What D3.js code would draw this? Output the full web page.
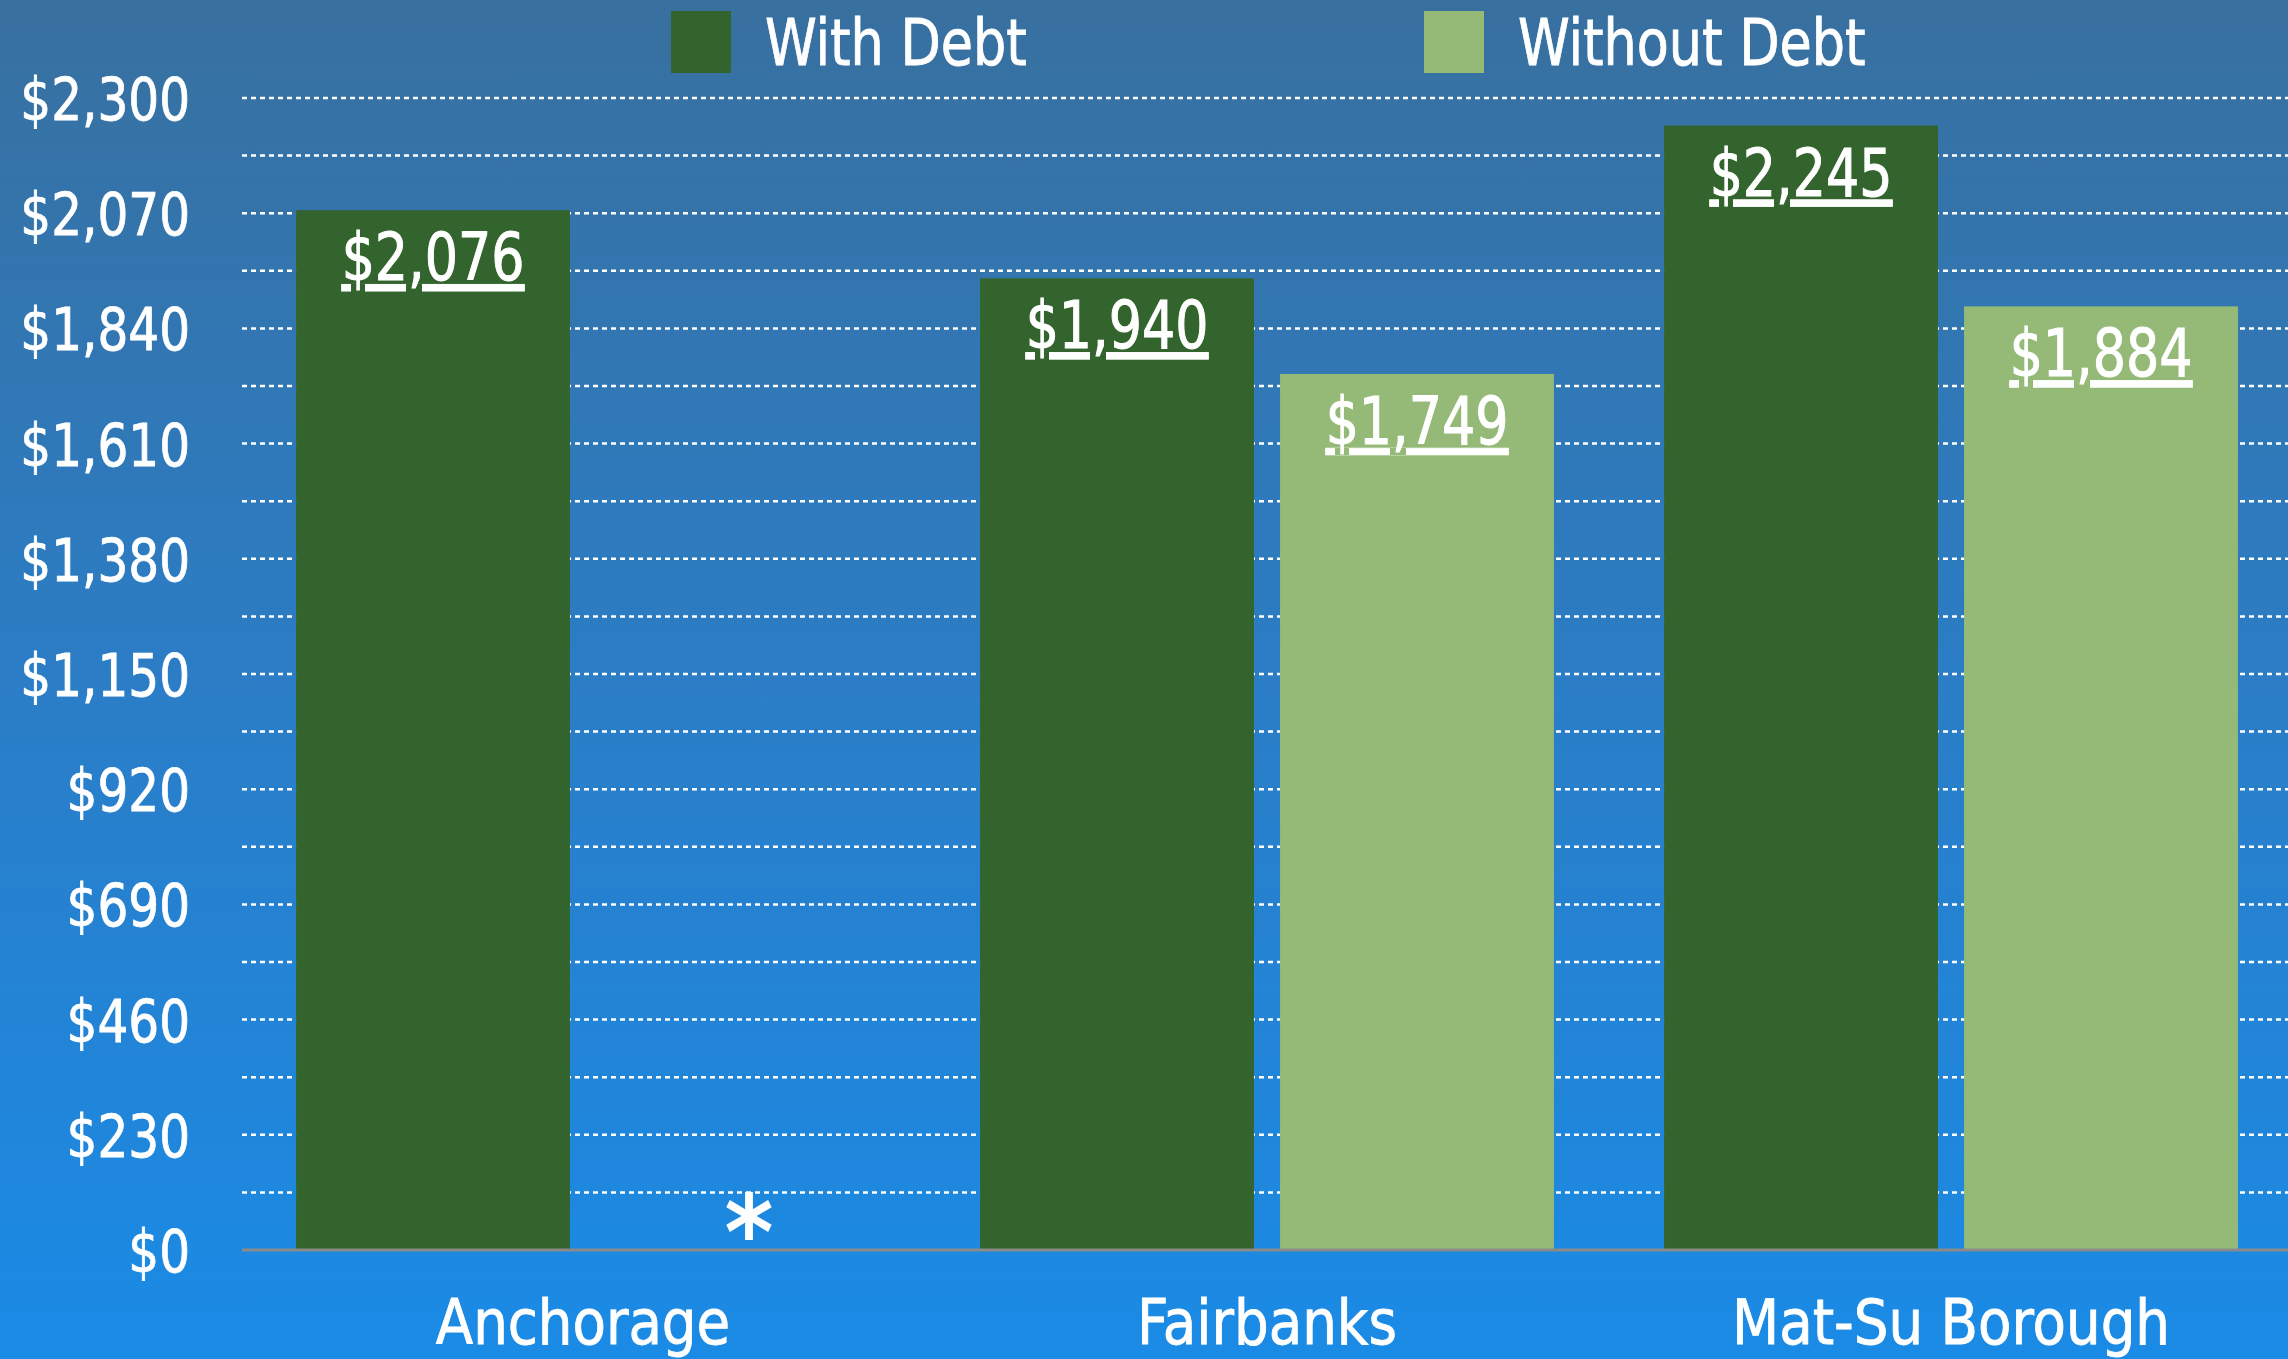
<!DOCTYPE html>
<html>
<head>
<meta charset="utf-8">
<script src="https://cdn.jsdelivr.net/npm/d3@7"></script>
<style>
  html, body { margin: 0; padding: 0; overflow: hidden; }
  svg text { font-family: "DejaVu Sans Condensed", "DejaVu Sans", sans-serif; font-stretch: condensed; fill: #fff; }
</style>
</head>
<body>
<div id="chart"></div>
<script>
// Chart data
const categories = ["Anchorage", "Fairbanks", "Mat-Su Borough"];
const seriesNames = ["With Debt", "Without Debt"];
const withDebt = [2076, 1940, 2245];
const withoutDebt = [null, 1749, 1884];   // Anchorage has no value (marked *)
const tickValues = [0, 230, 460, 690, 920, 1150, 1380, 1610, 1840, 2070, 2300];
const gridValues = d3.range(115, 2301, 115);

const colors = ["#33642d", "#95ba78"];

const width = 2288;
const height = 1359;
const margin = { top: 98, right: 0, bottom: 109, left: 242 };
const fmt = d => "$" + d3.format(",")(d);

const svg = d3.select("#chart")
    .append("svg")
    .attr("width", width)
    .attr("height", height);

// Background gradient
const grad = svg.append("defs").append("linearGradient")
    .attr("id", "bg")
    .attr("x1", 0).attr("y1", 0).attr("x2", 0).attr("y2", 1);
grad.append("stop").attr("offset", "0%").attr("stop-color", "#38709f");
grad.append("stop").attr("offset", "50%").attr("stop-color", "#2b7dc6");
grad.append("stop").attr("offset", "100%").attr("stop-color", "#1a8be6");

svg.append("rect")
    .attr("width", width)
    .attr("height", height)
    .attr("fill", "url(#bg)");

// Scales
const x0 = d3.scaleBand()
    .domain(categories)
    .range([241, 2293])
    .paddingInner(0.161)
    .paddingOuter(0.0805);

const x1 = d3.scaleBand()
    .domain(seriesNames)
    .range([0, x0.bandwidth()])
    .paddingInner(0.087);

const y = d3.scaleLinear()
    .domain([0, 2300])
    .range([height - margin.bottom, margin.top]);

// Dotted gridlines
svg.append("g")
    .selectAll("line")
    .data(gridValues)
    .join("line")
    .attr("x1", margin.left)
    .attr("x2", width - margin.right)
    .attr("y1", d => y(d))
    .attr("y2", d => y(d))
    .attr("stroke", "#fff")
    .attr("stroke-width", 2.5)
    .attr("stroke-dasharray", "5,4");

// Y axis labels
const yAxis = svg.append("g")
    .attr("transform", `translate(${margin.left - 52},3)`)
    .call(d3.axisLeft(y).tickValues(tickValues).tickSize(0).tickPadding(0)
        .tickFormat(fmt));
yAxis.select(".domain").remove();
yAxis.selectAll("text")
    .attr("font-size", 58)
    .attr("fill", "#fff")
    .attr("stroke", "#fff")
    .attr("stroke-width", 0.8)
    .attr("transform", "scale(0.93,1)")
    .style("font-family", null);

// Bars
const rows = categories.map((c, i) => ({
    category: c,
    values: [
        { key: seriesNames[0], value: withDebt[i], color: colors[0] },
        { key: seriesNames[1], value: withoutDebt[i], color: colors[1] }
    ]
}));

const groups = svg.append("g")
    .selectAll("g")
    .data(rows)
    .join("g")
    .attr("transform", d => `translate(${x0(d.category)},0)`);

groups.selectAll("rect")
    .data(d => d.values.filter(v => v.value != null))
    .join("rect")
    .attr("x", d => x1(d.key))
    .attr("y", d => y(d.value))
    .attr("width", x1.bandwidth())
    .attr("height", d => y(0) - y(d.value))
    .attr("fill", d => d.color);

// Value labels (underlined)
groups.selectAll("text.value")
    .data(d => d.values.filter(v => v.value != null))
    .join("text")
    .attr("class", "value")
    .attr("transform", d => `translate(${x1(d.key) + x1.bandwidth() / 2},${y(d.value) + 70}) scale(0.88,1)`)
    .attr("text-anchor", "middle")
    .attr("font-size", 66)
    .attr("stroke", "#fff")
    .attr("stroke-width", 1)
    .attr("text-decoration", "underline")
    .text(d => fmt(d.value));

// Missing value marker
groups.selectAll("text.missing")
    .data(d => d.values.filter(v => v.value == null))
    .join("text")
    .attr("class", "missing")
    .attr("x", d => x1(d.key) + x1.bandwidth() / 2 + 16)
    .attr("y", y(0) + 19)
    .attr("text-anchor", "middle")
    .attr("font-size", 104)
    .attr("font-weight", "bold")
    .text("*");

// Baseline
svg.append("line")
    .attr("x1", margin.left)
    .attr("x2", width - margin.right)
    .attr("y1", y(0))
    .attr("y2", y(0))
    .attr("stroke", "#8a8a8a")
    .attr("stroke-width", 3);

// Category labels
svg.append("g")
    .selectAll("text")
    .data(categories)
    .join("text")
    .attr("transform", d => `translate(${x0(d) + x0.bandwidth() / 2},1344) scale(0.98,1)`)
    .attr("text-anchor", "middle")
    .attr("font-size", 62)
    .attr("stroke", "#fff")
    .attr("stroke-width", 0.8)
    .text(d => d);

// Legend
const legendX = [671, 1424];
const legend = svg.append("g")
    .selectAll("g")
    .data(seriesNames)
    .join("g")
    .attr("transform", (d, i) => `translate(${legendX[i]},11)`);

legend.append("rect")
    .attr("width", 60)
    .attr("height", 62)
    .attr("fill", (d, i) => colors[i]);

legend.append("text")
    .attr("transform", "translate(94,54) scale(0.91,1)")
    .attr("font-size", 64)
    .attr("stroke", "#fff")
    .attr("stroke-width", 0.8)
    .text(d => d);
</script>
</body>
</html>
